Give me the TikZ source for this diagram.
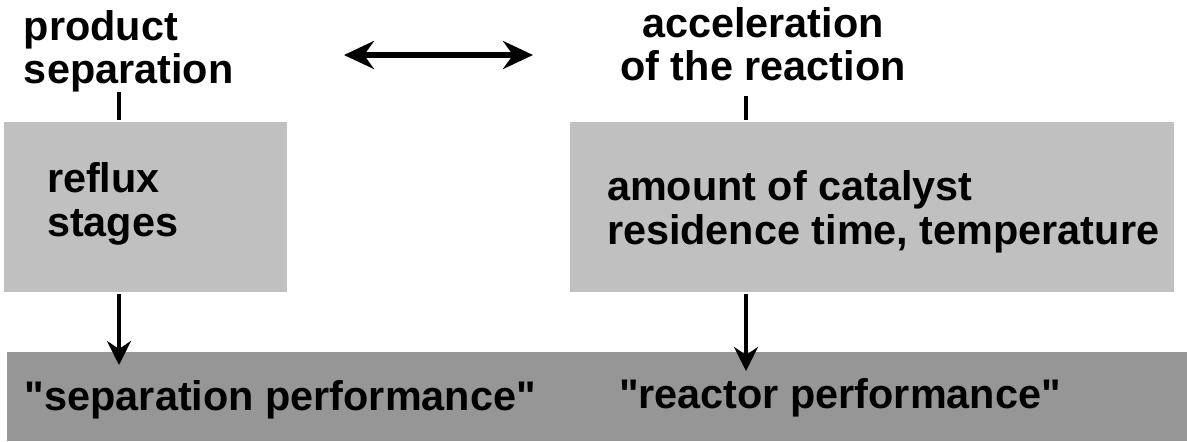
\documentclass[tikz,border=0pt]{standalone}
\usepackage{fontspec}
\setmainfont{Liberation Sans}
\usetikzlibrary{arrows.meta}
\definecolor{boxgray}{HTML}{C0C0C0}
\definecolor{bargray}{HTML}{969696}

\begin{document}
\begin{tikzpicture}[
            x=0.5pt, y=-0.5pt,
            line width=2pt,
            txt/.style={inner sep=0pt, anchor=base west, align=left, font=\fontsize{20.7}{21.5}\selectfont\bfseries},
            ctxt/.style={txt, anchor=base, align=center},
            panel/.style={fill=boxgray, draw=none, inner sep=0pt, minimum height=85pt},
            arr/.style={-{Stealth[length=12pt, width=12pt, inset=4pt]}}
        ]
        \useasboundingbox (0,0) rectangle (1187,441);

        % --- Boxes ---
        \node[panel, minimum width=141.5pt] (sepbox) at (145.5,207) {};
        \node[panel, minimum width=302pt] (reactbox) at (872,207) {};
        \node[panel, fill=bargray, minimum width=590pt, minimum height=44.5pt] (perfbar) at (597,396.5) {};

        % --- Labels (anchored at the baseline of the last line) ---
        \node[txt] (sepgoal) at (22,83) {product\\separation};
        \node[ctxt] (reactgoal) at (763,80) {acceleration\\of the reaction};
        \node[txt,font=\fontsize{20.7}{22}\selectfont\bfseries] (seppar) at (45,236) {reflux\\stages};
        \node[txt,font=\fontsize{20.7}{22}\selectfont\bfseries] (reactpar) at (605,244) {amount of catalyst\\residence time, temperature};
        \node[txt] (sepperf) at (23,410) {\textquotedbl separation performance\textquotedbl};
        \node[txt] (reactperf) at (617,408) {\textquotedbl reactor performance\textquotedbl};

        % --- Connectors ---
        \coordinate (septop) at (119,92);
        \coordinate (reacttop) at (746,96);
        \coordinate (sepin) at (119,365);
        \coordinate (reactin) at (746,371);
        \coordinate (lnkl) at (344,55);
        \coordinate (lnkr) at (533,55);

        \draw (septop) -- (septop |- sepbox.north);
        \draw (reacttop) -- (reacttop |- reactbox.north);
        \draw[arr] (septop |- sepbox.south) -- (sepin);
        \draw[arr] (reacttop |- reactbox.south) -- (reactin);
        \draw[line width=2.8pt, {Stealth[length=15pt, width=14pt, inset=5pt]}-{Stealth[length=15pt, width=14pt, inset=5pt]}] (lnkl) -- (lnkr);
        \end{tikzpicture}
\end{document}
